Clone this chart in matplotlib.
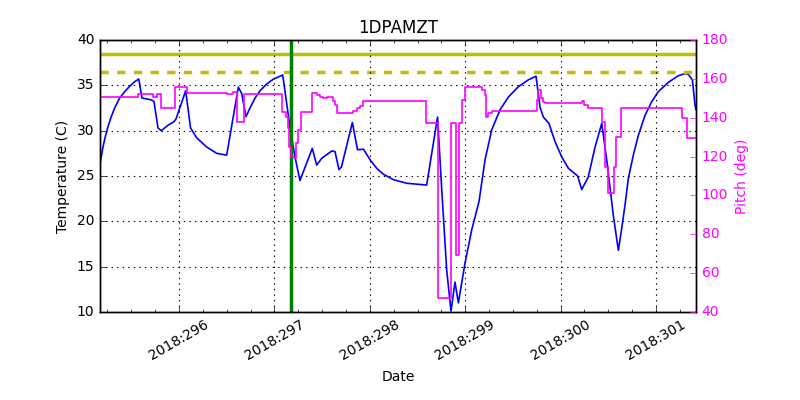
import matplotlib
matplotlib.use("Agg")
import matplotlib.pyplot as plt
from matplotlib.ticker import FixedLocator, MultipleLocator

plt.style.use("classic")

# ---- data ----
temp_day = [295.175, 295.203, 295.227, 295.256, 295.290, 295.326, 295.378, 295.431,
            295.483, 295.536, 295.578,
            295.612, 295.710, 295.738, 295.780, 295.814, 295.885, 295.948, 295.969,
            296.070, 296.121, 296.186, 296.290, 296.395, 296.500, 296.622, 296.657,
            296.702, 296.744, 296.797, 296.849, 296.919, 296.988, 297.087, 297.105,
            297.129, 297.164, 297.216, 297.268, 297.397, 297.443, 297.496, 297.601,
            297.635, 297.677, 297.703, 297.817, 297.871, 297.934, 298.002, 298.072,
            298.142, 298.246, 298.387, 298.596, 298.710, 298.754, 298.806, 298.851,
            298.893, 298.928, 298.998, 299.068, 299.145, 299.208, 299.278, 299.365,
            299.452, 299.557, 299.661, 299.742, 299.784, 299.819, 299.878, 299.941,
            300.012, 300.081, 300.179, 300.221, 300.290, 300.361, 300.431, 300.483,
            300.553, 300.575, 300.605, 300.640, 300.675, 300.710, 300.762, 300.815,
            300.885, 300.955, 301.024, 301.129, 301.234, 301.304, 301.339, 301.381,
            301.409, 301.419]
temp_val = [26.5, 28.2, 29.3, 30.45, 31.55, 32.5, 33.6, 34.3,
            34.9, 35.4, 35.7,
            33.6, 33.4, 33.2, 30.3, 30.0, 30.6, 31.0, 31.3,
            34.4, 30.3, 29.2, 28.2, 27.5, 27.3, 34.8, 34.1,
            31.55, 32.5, 33.6, 34.4, 35.15, 35.67, 36.14, 34.8,
            33.0, 30.3, 27.1, 24.5, 28.05, 26.2, 26.95, 27.76,
            27.7, 25.7, 26.0, 30.9, 27.9, 27.95, 26.8, 25.85,
            25.2, 24.6, 24.2, 24.0, 31.5, 23.5, 14.6, 10.1,
            13.3, 11.0, 15.4, 19.05, 22.2, 26.8, 30.1, 32.3,
            33.7, 34.85, 35.6, 36.0, 32.6, 31.5, 30.8, 28.8,
            27.1, 25.85, 25.0, 23.5, 24.9, 28.2, 30.8, 26.8,
            20.6, 19.0, 16.8, 19.2, 21.8, 24.75, 27.3, 29.5,
            31.7, 33.2, 34.3, 35.33, 36.06, 36.3, 36.2, 35.6,
            32.8, 32.3]

pitch_day = [295.172, 295.575, 295.727, 295.773, 295.811, 295.961, 296.081, 296.500,
             296.570, 296.611, 296.684, 297.077, 297.118, 297.141, 297.155, 297.170,
             297.206, 297.226, 297.251, 297.276, 297.397, 297.443, 297.478, 297.513,
             297.548, 297.617, 297.635, 297.659, 297.827, 297.862, 297.897, 297.926,
             298.589, 298.718, 298.851, 298.901, 298.935, 298.963, 298.998, 299.173,
             299.208, 299.218, 299.242, 299.278, 299.749, 299.766, 299.795, 299.816,
             299.837, 300.221, 300.249, 300.290, 300.431, 300.465, 300.494, 300.563,
             300.581, 300.633, 301.270, 301.322, 301.419]
pitch_val = [150.8, 152.0, 150.8, 152.0, 144.8, 155.7, 152.9, 152.3,
             153.4, 138.0, 152.0, 143.1, 140.5, 134.6, 125.0, 120.0,
             119.1, 126.8, 133.7, 143.1, 152.6, 151.7, 150.5, 150.0,
             150.5, 148.8, 146.5, 142.3, 143.6, 144.8, 146.0, 148.5,
             137.1, 47.4, 137.1, 69.3, 137.1, 149.1, 156.0, 154.3,
             151.7, 140.5, 142.3, 143.6, 149.0, 154.3, 150.0, 148.3,
             147.4, 148.8, 146.5, 144.8, 138.0, 114.8, 101.1, 114.8,
             130.2, 144.8, 139.7, 129.4, 129.4]

planning_limit = 38.5
yellow_limit = 36.5
event_day = 297.174

day_ticks = [296, 297, 298, 299, 300, 301]
day_labels = ["2018:%d" % d for d in day_ticks]

# ---- plot ----
fig = plt.figure(figsize=(8, 4), dpi=100, facecolor="white")
ax = fig.add_subplot(111)
ax.set_facecolor("white")
fig.subplots_adjust(left=0.125, right=0.87, top=0.9, bottom=0.22)

ax.plot(temp_day, temp_val, color="blue", lw=1.2)
ax.axhline(planning_limit, color="y", lw=2.5, ls="-")
ax.axhline(yellow_limit, color="y", lw=2.5, ls="--")
ax.axvline(event_day, color="g", lw=2.5)

ax.set_xlim(295.172, 301.419)
ax.set_ylim(10, 40)
ax.set_yticks([10, 15, 20, 25, 30, 35, 40])
ax.xaxis.set_major_locator(FixedLocator(day_ticks))
ax.set_xticklabels(day_labels, rotation=30, ha="center", fontsize=10)
ax.xaxis.set_minor_locator(MultipleLocator(0.25))
ax.tick_params(axis="y", labelsize=10, right=False)
ax.grid(True, ls=":", color="black", lw=0.8)
ax.set_xlabel("Date", fontsize=10)
ax.set_ylabel("Temperature (C)", fontsize=10)
ax.set_title("1DPAMZT", fontsize=12)

ax2 = ax.twinx()
ax2.plot(pitch_day, pitch_val, color="magenta", lw=1.2, drawstyle="steps-post")
ax2.set_ylim(40, 180)
ax2.set_yticks(range(40, 181, 20))
ax2.tick_params(axis="y", colors="magenta", labelsize=10, left=False)
ax2.set_ylabel("Pitch (deg)", color="magenta", fontsize=10)
ax2.set_xlim(295.172, 301.419)

fig.savefig("out.png", dpi=100, facecolor="white")
